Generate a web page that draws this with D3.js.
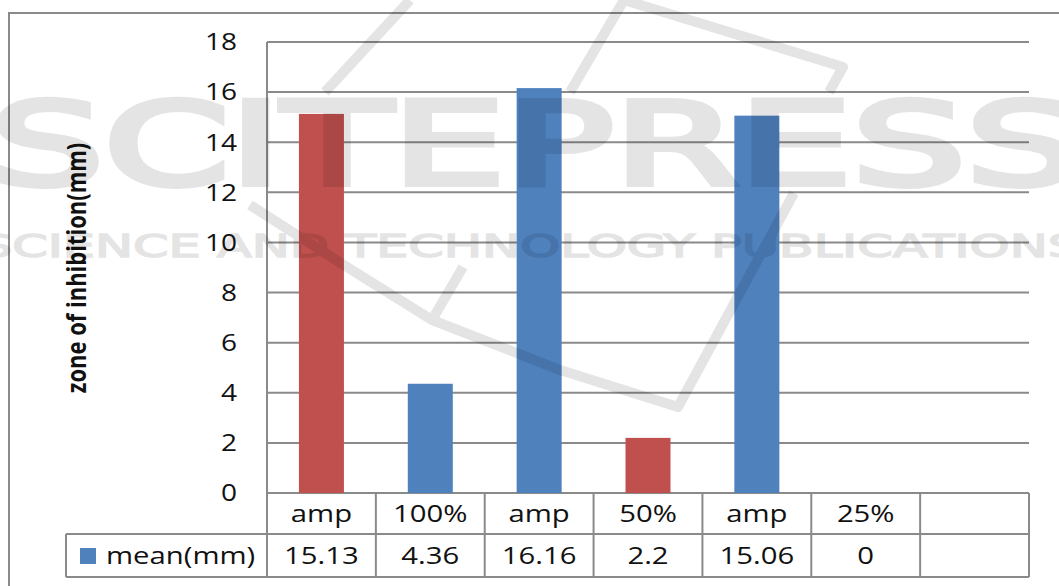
<!DOCTYPE html>
<meta charset="utf-8">
<head>
<style>
  body { margin: 0; background: #fff; }
  svg text { font-family: "Open Sans", Lato, sans-serif; fill: #111; }
</style>
</head>
<body>
<svg id="chart" width="1059" height="586"></svg>
<script src="https://d3js.org/d3.v7.min.js"></script>
<script>

var categories = ["amp", "100%", "amp", "50%", "amp", "25%", ""];
var values = [15.13, 4.36, 16.16, 2.2, 15.06, 0, null];
var valueLabels = ["15.13", "4.36", "16.16", "2.2", "15.06", "0", ""];
var barColors = ["#c0504d", "#4f81bd", "#4f81bd", "#c0504d", "#4f81bd", "#4f81bd", null];
var yTicks = [0, 2, 4, 6, 8, 10, 12, 14, 16, 18];
var seriesName = "mean(mm)";

var svg = d3.select("#chart");
var grey = "#8a8a8a";
var sx = 1.22; // the source image is stretched sideways, so is the text

function place(px, py) { return "translate(" + px + "," + py + ") scale(" + sx + ",1)"; }

var x = d3.scaleBand()
  .domain(d3.range(categories.length))
  .range([267, 1029]);

var y = d3.scaleLinear()
  .domain([0, 18])
  .range([493, 42]);

// outer frame
svg.append("rect")
  .attr("x", 9).attr("y", 13)
  .attr("width", 1060).attr("height", 600)
  .attr("fill", "none").attr("stroke", grey).attr("stroke-width", 2);

// gridlines
svg.append("g").selectAll("line")
  .data(yTicks)
  .join("line")
  .attr("x1", 267).attr("x2", 1029)
  .attr("y1", function(d) { return y(d); })
  .attr("y2", function(d) { return y(d); })
  .attr("stroke", grey).attr("stroke-width", 2);

// tick labels
svg.append("g").selectAll("text")
  .data(yTicks)
  .join("text")
  .attr("transform", function(d) { return place(237, y(d)); })
  .attr("dy", "0.36em")
  .attr("text-anchor", "end")
  .style("font-size", "23px")
  .text(function(d) { return d; });

// y axis line
svg.append("line")
  .attr("x1", 267).attr("x2", 267)
  .attr("y1", 42).attr("y2", 577)
  .attr("stroke", grey).attr("stroke-width", 2);

// bars
var barW = 45;
svg.append("g").selectAll("rect")
  .data(values.map(function(v, i) { return { v: v, i: i }; }).filter(function(d) { return d.v; }))
  .join("rect")
  .attr("x", function(d) { return x(d.i) + (x.bandwidth() - barW) / 2; })
  .attr("y", function(d) { return y(d.v); })
  .attr("width", barW)
  .attr("height", function(d) { return y(0) - y(d.v); })
  .attr("fill", function(d) { return barColors[d.i]; });

// data table
var row1 = [493, 534], row2 = [534, 577];
var tbl = svg.append("g").attr("stroke", grey).attr("stroke-width", 2);
tbl.append("line").attr("x1", 267).attr("x2", 1029).attr("y1", row1[1]).attr("y2", row1[1]);
tbl.append("line").attr("x1", 66).attr("x2", 1029).attr("y1", row2[1]).attr("y2", row2[1]);
tbl.append("line").attr("x1", 66).attr("x2", 267).attr("y1", row2[0]).attr("y2", row2[0]);
tbl.append("line").attr("x1", 66).attr("x2", 66).attr("y1", row2[0]).attr("y2", row2[1]);
tbl.selectAll("line.col")
  .data(d3.range(categories.length + 1))
  .join("line")
  .attr("class", "col")
  .attr("x1", function(i) { return 267 + i * x.bandwidth(); })
  .attr("x2", function(i) { return 267 + i * x.bandwidth(); })
  .attr("y1", row1[0]).attr("y2", row2[1]);

svg.append("g").selectAll("text")
  .data(categories)
  .join("text")
  .attr("transform", function(d, i) { return place(x(i) + x.bandwidth() / 2, (row1[0] + row1[1]) / 2); })
  .attr("dy", "0.36em")
  .attr("text-anchor", "middle")
  .style("font-size", "24px")
  .text(function(d) { return d; });

svg.append("g").selectAll("text")
  .data(valueLabels)
  .join("text")
  .attr("transform", function(d, i) { return place(x(i) + x.bandwidth() / 2, (row2[0] + row2[1]) / 2); })
  .attr("dy", "0.36em")
  .attr("text-anchor", "middle")
  .style("font-size", "24px")
  .text(function(d) { return d; });

// legend key
svg.append("rect")
  .attr("x", 80).attr("y", 548).attr("width", 16).attr("height", 16)
  .attr("fill", "#4f81bd");
svg.append("text")
  .attr("transform", place(106, (row2[0] + row2[1]) / 2))
  .attr("dy", "0.36em")
  .style("font-size", "24px")
  .text(seriesName);

// y title
svg.append("text")
  .attr("transform", "translate(86,268) scale(" + sx + ",1) rotate(-90)")
  .attr("text-anchor", "middle")
  .style("font-size", "22px")
  .style("font-weight", "bold")
  .text("zone of inhibition(mm)");

// watermark
var wm = svg.append("g").attr("opacity", 0.1).style("pointer-events", "none");
wm.append("path")
  .attr("d", "M410,0 L325,92 M624,0 L570,92 M624,0 L843,67 L829,92 M250,205 L347,267 L432,320 L560,370 L678,407 L794,193 M463,267 L432,320")
  .attr("fill", "none").attr("stroke", "#000").attr("stroke-width", 10)
  .attr("stroke-linejoin", "round");
wm.append("text")
  .attr("x", -10).attr("y", 184)
  .attr("textLength", 1090)
  .attr("lengthAdjust", "spacingAndGlyphs")
  .style("font-size", "114px")
  .style("font-family", "'DejaVu Sans'")
  .style("fill", "#000")
  .style("stroke", "#000").style("stroke-width", 6)
  .text("SCITEPRESS");
wm.append("text")
  .attr("x", -20).attr("y", 257)
  .attr("textLength", 1100)
  .attr("lengthAdjust", "spacingAndGlyphs")
  .style("font-size", "32px")
  .style("font-family", "'DejaVu Sans'")
  .style("fill", "#000")
  .style("stroke", "#000").style("stroke-width", 1.5)
  .text("SCIENCE AND TECHNOLOGY PUBLICATIONS");

</script>
</body>
